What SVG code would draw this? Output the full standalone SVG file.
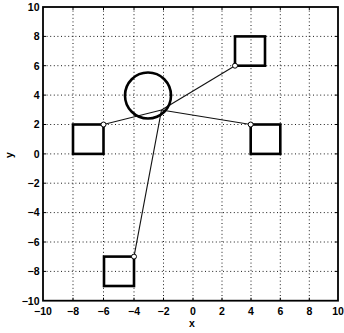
<svg xmlns="http://www.w3.org/2000/svg" width="344" height="333" viewBox="0 0 344 333">
<style>
.grid{stroke:#000;stroke-width:0.9;stroke-dasharray:1 2.6;fill:none}
.axis{stroke:#000;stroke-width:1.8;fill:none}
.tick{stroke:#000;stroke-width:1}
.lbl{font-family:"Liberation Sans",Arial,sans-serif;font-size:10.5px;font-weight:bold;fill:#000}
.sq{fill:none;stroke:#000;stroke-width:2.6}
.conn{stroke:#111;stroke-width:1.1;fill:none}
.pt{fill:#fff;stroke:#000;stroke-width:1}
</style>
<rect width="344" height="333" fill="#fff"/>
<g id="grid">
<path class="grid" d="M73,7V300.7M103.5,7V300.7M134,7V300.7M163.5,7V300.7M193,7V300.7M222,7V300.7M251,7V300.7M280.3,7V300.7M309.3,7V300.7"/>
<path class="grid" d="M43,36.4H338M43,65.7H338M43,95.1H338M43,124.5H338M43,153.9H338M43,183.2H338M43,212.6H338M43,242H338M43,271.4H338"/>
</g>
<g id="axes">
<rect class="axis" x="43" y="7" width="295" height="293.7"/>
<path class="tick" d="M73,300.7v-3M103.5,300.7v-3M134,300.7v-3M163.5,300.7v-3M193,300.7v-3M222,300.7v-3M251,300.7v-3M280.3,300.7v-3M309.3,300.7v-3M73,7v3M103.5,7v3M134,7v3M163.5,7v3M193,7v3M222,7v3M251,7v3M280.3,7v3M309.3,7v3"/>
<path class="tick" d="M43,36.4h3M43,65.7h3M43,95.1h3M43,124.5h3M43,153.9h3M43,183.2h3M43,212.6h3M43,242h3M43,271.4h3M338,36.4h-3M338,65.7h-3M338,95.1h-3M338,124.5h-3M338,153.9h-3M338,183.2h-3M338,212.6h-3M338,242h-3M338,271.4h-3"/>
</g>
<g id="ylabels" class="lbl" text-anchor="end">
<text x="39.5" y="11">10</text>
<text x="39.5" y="40.2">8</text>
<text x="39.5" y="69.5">6</text>
<text x="39.5" y="98.9">4</text>
<text x="39.5" y="128.3">2</text>
<text x="39.5" y="157.7">0</text>
<text x="39.5" y="187">−2</text>
<text x="39.5" y="216.4">−4</text>
<text x="39.5" y="245.8">−6</text>
<text x="39.5" y="275.2">−8</text>
<text x="39.5" y="304.5">−10</text>
</g>
<g id="xlabels" class="lbl" text-anchor="middle">
<text x="43" y="315">−10</text>
<text x="73" y="315">−8</text>
<text x="103.5" y="315">−6</text>
<text x="134" y="315">−4</text>
<text x="163.5" y="315">−2</text>
<text x="193" y="315">0</text>
<text x="222" y="315">2</text>
<text x="251" y="315">4</text>
<text x="280.3" y="315">6</text>
<text x="309.3" y="315">8</text>
<text x="338" y="315">10</text>
</g>
<text id="xlabel" class="lbl" x="192" y="326.5" text-anchor="middle">x</text>
<text id="ylabel" class="lbl" x="0" y="0" text-anchor="middle" transform="translate(12.5,155) rotate(-90)">y</text>
<g id="connectors">
<line class="conn" x1="161.5" y1="110" x2="235" y2="65.7"/>
<line class="conn" x1="161.5" y1="110" x2="103.5" y2="124.5"/>
<line class="conn" x1="161.5" y1="110" x2="250.7" y2="124.5"/>
<line class="conn" x1="161.5" y1="110" x2="134" y2="256.6"/>
</g>
<g id="hub">
<circle cx="148" cy="95.5" r="23" fill="none" stroke="#000" stroke-width="2.6"/>
</g>
<g id="sq-topright">
<rect class="sq" x="235" y="36.4" width="30" height="29.3"/>
<circle class="pt" cx="235" cy="65.7" r="2.5"/>
</g>
<g id="sq-left">
<rect class="sq" x="73" y="124.5" width="30.5" height="29.4"/>
<circle class="pt" cx="103.5" cy="124.5" r="2.5"/>
</g>
<g id="sq-right">
<rect class="sq" x="250.7" y="124.5" width="29.6" height="29.4"/>
<circle class="pt" cx="250.7" cy="124.5" r="2.5"/>
</g>
<g id="sq-bottom">
<rect class="sq" x="104" y="256.6" width="30" height="29.4"/>
<circle class="pt" cx="134" cy="256.6" r="2.5"/>
</g>
</svg>
